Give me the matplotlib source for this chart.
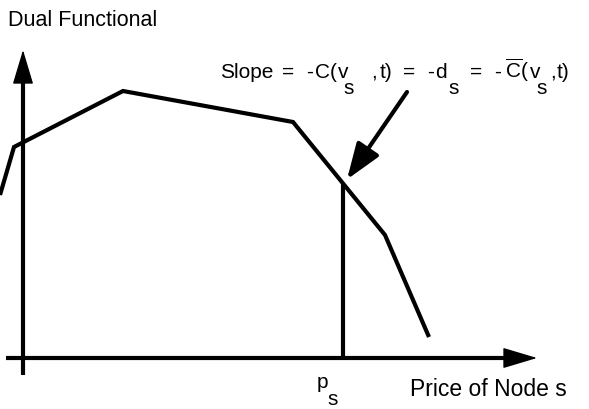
import numpy as np
import matplotlib
matplotlib.use("Agg")
from matplotlib import pyplot as plt

plt.rcParams["font.family"] = ["Liberation Sans", "DejaVu Sans"]
plt.rcParams["mathtext.fontset"] = "custom"
plt.rcParams["mathtext.rm"] = "Liberation Sans"
plt.rcParams["mathtext.it"] = "Liberation Sans"

# dual functional, piecewise linear in the price of node s
price = [-23, -9, 100, 270, 362, 406]
dual = [163, 211, 267, 236, 123, 21]
p_s = 320

# axis extents
x_start, x_end = -17, 514
y_start, y_end = -17, 308

# slope label pieces: (text, x offset, subscript?)
label_x, label_y = 197, 280
sub_drop = 16
label_parts = [
    ("Slope", 0, False),
    ("=", 62, False),
    ("-", 86, False),
    ("C(", 95, False),
    ("v", 118, False),
    ("s", 123, True),
    (",", 151, False),
    ("t)", 160, False),
    ("=", 183, False),
    ("-", 207, False),
    ("d", 215, False),
    ("s", 228, True),
    ("=", 250, False),
    ("-", 274, False),
    (r"$\overline{\mathrm{C}}$(", 285, False),
    ("v", 310, False),
    ("s", 316, True),
    (",", 330, False),
    ("t)", 337, False),
]
arrow_from = (384, 266)

fig = plt.figure(figsize=(5.89, 4.09), dpi=100)
ax = fig.add_axes([0, 0, 1, 1])
ax.set_xlim(-23, 566)
ax.set_ylim(-51, 358)
ax.axis("off")

lw = 3
ax.plot(price, dual, color="black", lw=lw, solid_joinstyle="miter", solid_capstyle="butt")

# vertical line at p_s up to the curve
d_s = np.interp(p_s, price, dual)
ax.plot([p_s, p_s], [0, d_s], color="black", lw=lw, solid_capstyle="butt")

# axes with arrow heads
head = "-|>,head_length=1.1,head_width=0.33"
ax.plot([x_start, x_end - 20], [0, 0], color="black", lw=lw, solid_capstyle="butt")
ax.annotate("", xy=(x_end, 0), xytext=(x_end - 25, 0),
            arrowprops=dict(arrowstyle=head, color="black", lw=1, mutation_scale=20, shrinkA=0, shrinkB=0))
ax.plot([0, 0], [y_start, y_end - 20], color="black", lw=lw, solid_capstyle="butt")
ax.annotate("", xy=(0, y_end), xytext=(0, y_end - 25),
            arrowprops=dict(arrowstyle=head, color="black", lw=1, mutation_scale=20, shrinkA=0, shrinkB=0))

# slope arrow pointing to the curve at p_s
ax.annotate("", xy=(p_s + 4, d_s + 4), xytext=arrow_from,
            arrowprops=dict(arrowstyle="-|>,head_length=1.1,head_width=0.4", color="black",
                            lw=lw, mutation_scale=20, shrinkA=0, shrinkB=0))

ax.text(-15, 332, "Dual Functional", fontsize=15.5, va="baseline", ha="left")
for txt, dx, sub in label_parts:
    ax.text(label_x + dx, label_y - (sub_drop if sub else 0), txt,
            fontsize=15, va="baseline", ha="left")
ax.text(294, -30, "p", fontsize=15, va="baseline", ha="left")
ax.text(304, -47, "s", fontsize=15, va="baseline", ha="left")
ax.text(387, -38, "Price of Node s", fontsize=16.5, va="baseline", ha="left")

fig.savefig("out.png", dpi=100)
